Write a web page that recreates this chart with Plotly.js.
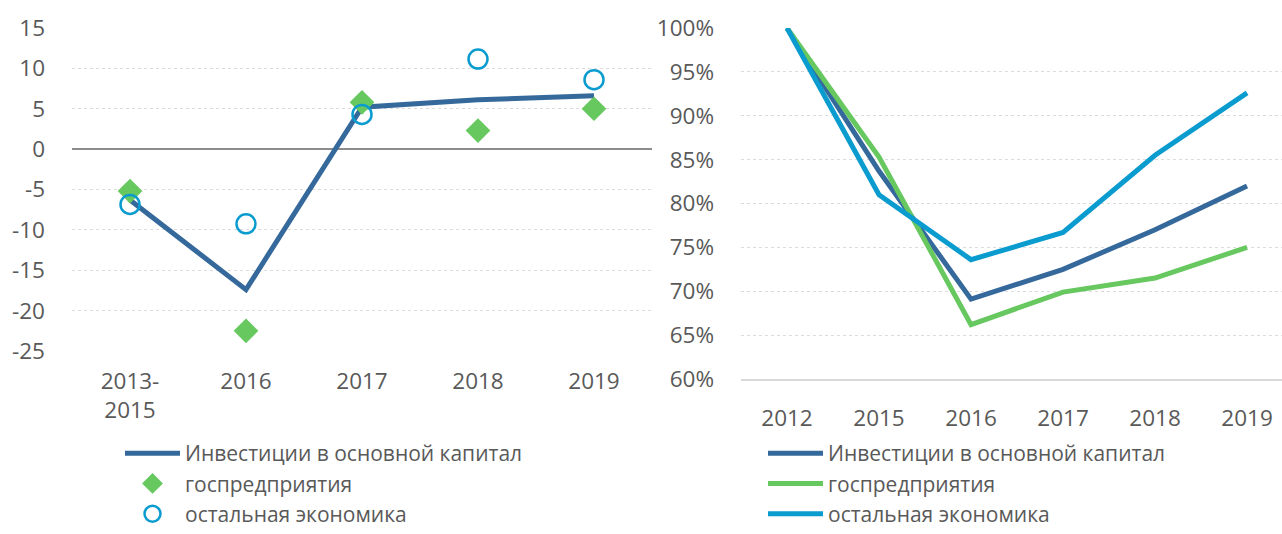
<!DOCTYPE html>
<html><head><meta charset="utf-8">
<script src="https://cdn.plot.ly/plotly-3.0.1.min.js"></script>
<style>html,body{margin:0;padding:0;background:#fff}#c{width:1282px;height:534px}</style>
</head><body><div id="c"></div>
<script>
// Left chart: annual growth, %
const leftCats = ["2013-<br>2015", "2016", "2017", "2018", "2019"];
const leftInvest = [-6.3, -17.4, 5.2, 6.1, 6.6];
const leftState = [-5.2, -22.5, 5.8, 2.3, 5.0];
const leftOther = [-6.85, -9.25, 4.3, 11.15, 8.6];
const leftTickVals = [-25, -20, -15, -10, -5, 0, 5, 10, 15];
const leftTickText = ["-25", "-20", "-15", "-10", "-5", "0", "5", "10", "15"];

// Right chart: index, 2012 = 100%
const rightCats = ["2012", "2015", "2016", "2017", "2018", "2019"];
const rightInvest = [100, 83.7, 69.1, 72.5, 77.0, 82.0];
const rightState = [100, 85.3, 66.2, 69.9, 71.5, 75.0];
const rightOther = [100, 81.0, 73.6, 76.7, 85.5, 92.6];

const seriesNames = ["Инвестиции в основной капитал", "госпредприятия", "остальная экономика"];

const cDark = "#35699B", cGreen = "#66C85F", cBlue = "#0A9BCF";
const txt = "#595959";
const fontFam = "'Open Sans', 'Noto Sans', sans-serif";

const data = [
  {x: leftCats, y: leftInvest, name: seriesNames[0], type: "scatter", mode: "lines",
   line: {color: cDark, width: 5}, xaxis: "x", yaxis: "y", legend: "legend"},
  {x: leftCats, y: leftState, name: seriesNames[1], type: "scatter", mode: "markers",
   marker: {symbol: "diamond", size: 19, color: cGreen}, xaxis: "x", yaxis: "y", legend: "legend"},
  {x: leftCats, y: leftOther, name: seriesNames[2], type: "scatter", mode: "markers",
   marker: {symbol: "circle-open", size: 19, color: cBlue, line: {width: 2.5, color: cBlue}}, xaxis: "x", yaxis: "y", legend: "legend"},
  {x: rightCats, y: rightInvest, name: seriesNames[0], type: "scatter", mode: "lines",
   line: {color: cDark, width: 5}, xaxis: "x2", yaxis: "y2", legend: "legend2"},
  {x: rightCats, y: rightState, name: seriesNames[1], type: "scatter", mode: "lines",
   line: {color: cGreen, width: 5}, xaxis: "x2", yaxis: "y2", legend: "legend2"},
  {x: rightCats, y: rightOther, name: seriesNames[2], type: "scatter", mode: "lines",
   line: {color: cBlue, width: 5}, xaxis: "x2", yaxis: "y2", legend: "legend2"}
];

const H = 534, W = 1282, MB = 10, PH = H - MB;
const fy = p => (PH - p) / PH; // pixel row (from top) -> paper fraction
const gridStyle = {showgrid: true, gridcolor: "#dcdcdc", griddash: "dot", gridwidth: 1};
const tf = {size: 22.5, color: txt, family: fontFam};

const legendBase = {y: -MB / PH, xanchor: "left", yanchor: "bottom",
  orientation: "v", font: {size: 21, color: txt, family: fontFam}, tracegroupgap: 0,
  bgcolor: "rgba(0,0,0,0)", itemwidth: 55};

const layout = {
  width: W, height: H,
  margin: {l: 0, r: 0, t: 0, b: MB},
  paper_bgcolor: "#fff", plot_bgcolor: "#fff",
  font: {family: fontFam, size: 22, color: txt},
  showlegend: true,
  xaxis: {domain: [72 / W, 652 / W], type: "category", range: [-0.5, 4.5], showgrid: false,
    zeroline: false, showline: false, ticks: "", ticklabelstandoff: 14, fixedrange: true,
    tickfont: tf, anchor: "y"},
  yaxis: Object.assign({domain: [fy(351), fy(28)], range: [-25, 15],
    tickmode: "array", tickvals: leftTickVals, ticktext: leftTickText,
    zeroline: true, zerolinecolor: "#8c8c8c", zerolinewidth: 2, showline: false, ticks: "",
    ticklabelstandoff: 26, tickfont: tf, anchor: "x"}, gridStyle),
  xaxis2: {domain: [741 / W, 1], type: "category", range: [-0.5, 5.38], showgrid: false,
    zeroline: false, showline: true, linecolor: "#d9d9d9", linewidth: 2, ticks: "",
    ticklabelstandoff: 18, tickfont: tf, anchor: "y2"},
  yaxis2: Object.assign({domain: [fy(379), fy(28)], range: [60, 100], dtick: 5,
    ticksuffix: "%", zeroline: false, showline: false, ticks: "", ticklabelstandoff: 26,
    tickfont: tf, anchor: "x2"}, gridStyle),
  legend: Object.assign({}, legendBase, {x: 120 / W}),
  legend2: Object.assign({}, legendBase, {x: 763 / W})
};

Plotly.newPlot("c", data, layout, {displayModeBar: false, staticPlot: true});
</script>
</body></html>
